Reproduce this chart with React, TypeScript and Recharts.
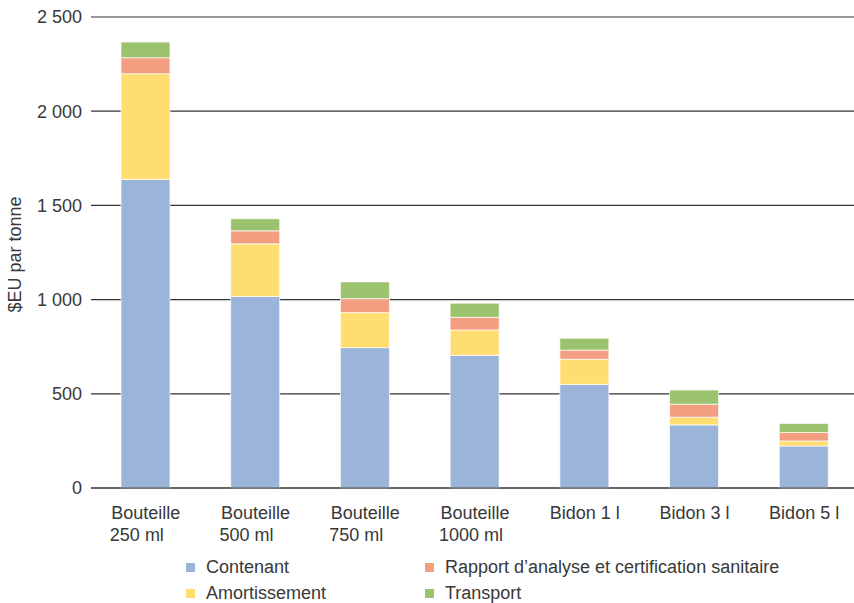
import React from "react";
import {
  Bar,
  BarChart,
  CartesianGrid,
  Legend,
  XAxis,
  YAxis,
} from "recharts";

const categories = [
  "Bouteille\n250 ml",
  "Bouteille\n500 ml",
  "Bouteille\n750 ml",
  "Bouteille\n1000 ml",
  "Bidon 1 l",
  "Bidon 3 l",
  "Bidon 5 l",
];
const contenant = [1638, 1017, 745, 704, 550, 335, 223];
const amortissement = [561, 279, 186, 135, 133, 41, 27];
const rapport = [85, 69, 74, 67, 49, 69, 45];
const transport = [83, 64, 89, 75, 63, 75, 48];
const yTicks = [0, 500, 1000, 1500, 2000, 2500];

const series = [
  { key: "contenant", name: "Contenant", color: "#9BB4D9" },
  { key: "amortissement", name: "Amortissement", color: "#FFDD71" },
  { key: "rapport", name: "Rapport d\u2019analyse et certification sanitaire", color: "#F39D81" },
  { key: "transport", name: "Transport", color: "#9BC26C" },
];

const data = categories.map((c, i) => ({
  label: c,
  contenant: contenant[i],
  amortissement: amortissement[i],
  rapport: rapport[i],
  transport: transport[i],
}));

const TEXT = "#383838";
const FONT = "'Liberation Sans', Arial, sans-serif";
const FS = 18;

function fmt(v: number): string {
  return v >= 1000 ? `${Math.floor(v / 1000)} ${String(v % 1000).padStart(3, "0")}` : String(v);
}

function CategoryTick(props: any) {
  const { x, y, payload } = props;
  const lines: string[] = String(payload.value).split("\n");
  if (lines.length === 1) {
    return (
      <text x={x} y={y + 29} textAnchor="middle" fill={TEXT} fontSize={FS} fontFamily={FONT}>
        {lines[0]}
      </text>
    );
  }
  return (
    <g>
      <text x={x} y={y + 29} textAnchor="middle" fill={TEXT} fontSize={FS} fontFamily={FONT}>
        {lines[0]}
      </text>
      <text x={x - 36} y={y + 51} textAnchor="start" fill={TEXT} fontSize={FS} fontFamily={FONT}>
        {lines[1]}
      </text>
    </g>
  );
}

function LegendBox() {
  const order = [series[0], series[2], series[1], series[3]];
  return (
    <div style={{ position: "relative", width: 854, height: 50, fontFamily: FONT, fontSize: FS, color: TEXT }}>
      {order.map((s, i) => {
        const col = i % 2;
        const row = Math.floor(i / 2);
        return (
          <div
            key={s.key}
            style={{
              position: "absolute",
              left: col === 0 ? 186 : 425,
              top: row * 26,
              display: "flex",
              alignItems: "center",
              whiteSpace: "nowrap",
              height: 24,
            }}
          >
            <span style={{ display: "inline-block", width: 9, height: 9, background: s.color, marginRight: 11 }} />
            <span>{s.name}</span>
          </div>
        );
      })}
    </div>
  );
}

function YLabel(props: any) {
  const vb = props.viewBox || { x: 0, y: 17, height: 471 };
  const cx = vb.x + 15;
  const cy = vb.y + vb.height / 2 + 2;
  return (
    <text
      x={cx}
      y={cy}
      transform={`rotate(-90 ${cx} ${cy})`}
      textAnchor="middle"
      dominantBaseline="central"
      fill={TEXT}
      fontSize={FS}
      fontFamily={FONT}
    >
      $EU par tonne
    </text>
  );
}

export default function App() {
  return (
    <div
      style={{
        position: "fixed",
        left: 0,
        top: 0,
        width: 854,
        height: 603,
        overflow: "hidden",
        background: "#fff",
      }}
    >
      <BarChart
        width={862}
        height={603}
        data={data}
        margin={{ top: 17, right: 3, bottom: 85, left: 0 }}
        barSize={49}
      >
        <CartesianGrid vertical={false} stroke="#333" strokeWidth={1.2} />
        <XAxis
          dataKey="label"
          interval={0}
          tickLine={false}
          tickSize={0}
          axisLine={{ stroke: "#333", strokeWidth: 1.2 }}
          tick={<CategoryTick />}
          height={30}
        />
        <YAxis
          width={91}
          domain={[0, 2500]}
          ticks={yTicks}
          tickFormatter={fmt}
          axisLine={false}
          tickLine={false}
          tickSize={0}
          tickMargin={9}
          tick={{ fill: TEXT, fontSize: FS, fontFamily: FONT }}
          label={<YLabel />}
        />
        {series.map((s) => (
          <Bar
            key={s.key}
            dataKey={s.key}
            name={s.name}
            stackId="a"
            fill={s.color}
            stroke="#ffffff"
            strokeOpacity={0.7}
            strokeWidth={1}
            isAnimationActive={false}
          />
        ))}
        <Legend
          layout="horizontal"
          verticalAlign="middle"
          align="center"
          wrapperStyle={{ left: 0, top: 555, width: 854, height: 50 }}
          content={() => <LegendBox />}
        />
      </BarChart>
    </div>
  );
}
